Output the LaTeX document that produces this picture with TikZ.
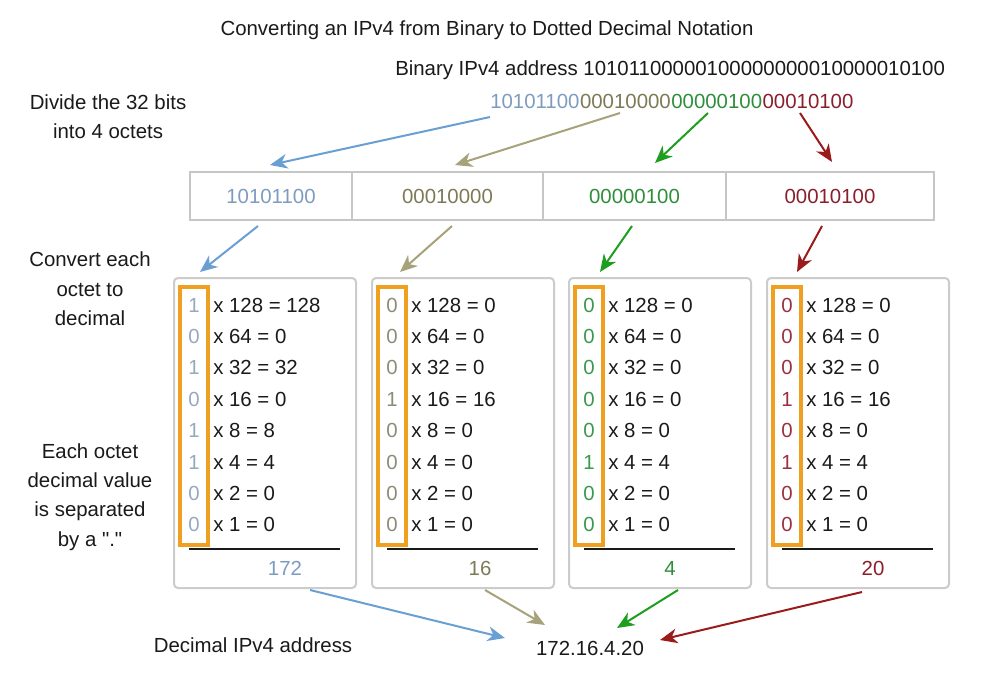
\documentclass[tikz,border=0pt]{standalone}
\usepackage{fontspec}
\setmainfont{Liberation Sans}[Ligatures=TeXOff]
\usetikzlibrary{arrows.meta}
\definecolor{ablue}{HTML}{6A9FD4}
\definecolor{aolive}{HTML}{A8A27A}
\definecolor{agreen}{HTML}{1E9E1E}
\definecolor{ared}{HTML}{9B1B1B}
\definecolor{tblue}{HTML}{7E9CC0}
\definecolor{tolive}{HTML}{7D7A55}
\definecolor{tgreen}{HTML}{2E8F3A}
\definecolor{tred}{HTML}{8B1F2B}
\definecolor{dblue}{HTML}{98A8C0}
\definecolor{dolive}{HTML}{8E8C78}
\definecolor{dgreen}{HTML}{3A9A4A}
\definecolor{dred}{HTML}{9A3040}
\definecolor{borange}{HTML}{F0A020}
\definecolor{ink}{HTML}{1A1A1A}
\def\px{0.75pt}
\newcommand\octetcol[7]{%
  \node[tallbox] (b#1) at (#2+91,433) {};
  \node[bitframe] (f#1) at (#2+20,416) {};
  \foreach \bit [count=\i] in {#4} {
    \pgfmathtruncatemacro\wgt{2^(8-\i)}
    \pgfmathtruncatemacro\prd{\bit*\wgt}
    \node[txt, text=#7] (d#1\i) at (#2+20, {305+(\i-1)*31.4}) {\bit};
    \node[txt, anchor=west] (t#1\i) at (#2+39, {305+(\i-1)*31.4}) {x \wgt{} = \prd};
  }
  \coordinate (u#1a) at (#2+15,549);
  \coordinate (u#1b) at (#2+166,549);
  \draw[sumline] (u#1a) -- (u#1b);
  \node[txt, text=#3] (sum#1) at (#6,568) {#5};
}
\begin{document}
\begin{tikzpicture}[x=0.75pt,y=-0.75pt,
  font=\fontsize{15.3}{22}\selectfont,
  txt/.style={inner sep=0pt, text=ink},
  lab/.style={inner sep=0pt, text=ink, align=center},
  octet/.style={draw=gray!45, line width=1.5pt, minimum height=48*\px, inner sep=0pt},
  tallbox/.style={draw=gray!40, line width=1.5pt, rounded corners=3pt, fill=white,
                  minimum width=182*\px, minimum height=310*\px},
  bitframe/.style={draw=borange, line width=2.3pt, minimum width=28*\px, minimum height=258*\px, inner sep=0pt},
  sumline/.style={line width=2pt, ink},
  arr/.style={line width=1.5pt, -{Stealth[length=13pt,width=11pt,inset=4pt]}}]
\useasboundingbox (0,0) rectangle (1000,689);
\fill[white] (0,0) rectangle (1000,689);

% headings
\node[txt] (title) at (487,30) {Converting an IPv4 from Binary to Dotted Decimal Notation};
\node[txt, anchor=west] (bin) at (395,70) {Binary IPv4 address 10101100000100000000010000010100};
\node[txt, anchor=west] (s1) at (490,101) {\color{tblue}10101100};
\node[txt, anchor=west] (s2) at (s1.east) {\color{tolive}00010000};
\node[txt, anchor=west] (s3) at (s2.east) {\color{tgreen}00000100};
\node[txt, anchor=west] (s4) at (s3.east) {\color{tred}00010100};

% side labels
\node[lab] (l1) at (108,117) {Divide the 32 bits\\into 4 octets};
\node[lab] (l2) at (90,289) {Convert each\\octet to\\decimal};
\node[lab] (l3) at (90,497) {Each octet\\decimal value\\is separated\\by a "."};
\node[lab] (l4) at (253,645) {Decimal IPv4 address};

% octet row
\node[octet, minimum width=162*\px, text=tblue] (o1) at (271,196) {10101100};
\node[octet, minimum width=191*\px, text=tolive] (o2) at (447.5,196) {00010000};
\node[octet, minimum width=183*\px, text=tgreen] (o3) at (634.5,196) {00000100};
\node[octet, minimum width=208*\px, text=tred] (o4) at (830,196) {00010100};

% conversion columns
\octetcol{1}{174}{tblue}{1,0,1,0,1,1,0,0}{172}{285}{dblue}
\octetcol{2}{372}{tolive}{0,0,0,1,0,0,0,0}{16}{480}{dolive}
\octetcol{3}{569}{tgreen}{0,0,0,0,0,1,0,0}{4}{670}{dgreen}
\octetcol{4}{767}{tred}{0,0,0,1,0,1,0,0}{20}{873}{dred}

% result
\node[txt] (ip) at (590,648) {172.16.4.20};

% arrow end points
\coordinate (p1) at (490,117); \coordinate (q1) at (270,165);
\coordinate (p2) at (620,113); \coordinate (q2) at (455,165);
\coordinate (p3) at (708,113); \coordinate (q3) at (655,163);
\coordinate (p4) at (800,113); \coordinate (q4) at (832,162);
\coordinate (m1) at (258,226); \coordinate (n1) at (200,272);
\coordinate (m2) at (452,226); \coordinate (n2) at (400,272);
\coordinate (m3) at (632,226); \coordinate (n3) at (600,272);
\coordinate (m4) at (822,226); \coordinate (n4) at (797,272);
\coordinate (r1) at (310,590); \coordinate (v1) at (505,638);
\coordinate (r2) at (485,590); \coordinate (v2) at (545,625);
\coordinate (r3) at (678,590); \coordinate (v3) at (617,628);
\coordinate (r4) at (862,592); \coordinate (v4) at (660,640);

\draw[arr, ablue] (p1) -- (q1);
\draw[arr, aolive] (p2) -- (q2);
\draw[arr, agreen] (p3) -- (q3);
\draw[arr, ared] (p4) -- (q4);
\draw[arr, ablue] (m1) -- (n1);
\draw[arr, aolive] (m2) -- (n2);
\draw[arr, agreen] (m3) -- (n3);
\draw[arr, ared] (m4) -- (n4);
\draw[arr, ablue] (r1) -- (v1);
\draw[arr, aolive] (r2) -- (v2);
\draw[arr, agreen] (r3) -- (v3);
\draw[arr, ared] (r4) -- (v4);
\end{tikzpicture}
\end{document}
